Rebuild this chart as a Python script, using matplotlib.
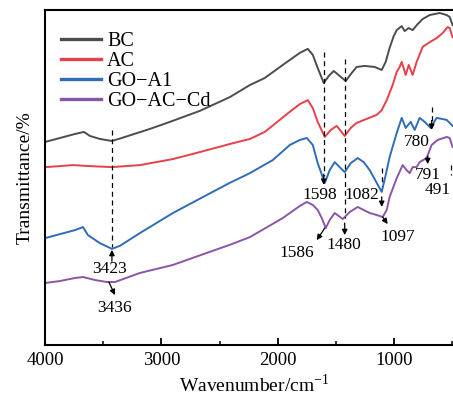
import matplotlib
matplotlib.use('Agg')
import matplotlib.pyplot as plt

plt.rcParams['font.family'] = ['Liberation Serif', 'DejaVu Serif']
plt.rcParams['mathtext.fontset'] = 'custom'
plt.rcParams['mathtext.rm'] = 'Liberation Serif'

# FTIR spectra, values (transmittance in arbitrary %)
bc_wn = [4000, 3871, 3742, 3665, 3614, 3528, 3425, 3313, 3099, 2927, 2669, 2412, 2240, 2112, 1957,
         1811, 1742, 1699, 1657, 1605, 1562, 1519, 1468, 1416, 1365, 1322, 1253, 1167, 1107, 1073,
         1039, 1004, 978, 935, 910, 875, 841, 798, 755, 695, 609, 549, 523, 498]
bc_t = [60.6, 61.8, 63.0, 63.6, 62.4, 61.5, 60.9, 62.1, 64.5, 66.6, 69.9, 74.0, 77.6, 79.7, 83.6,
        87.2, 88.4, 86.6, 82.7, 78.2, 80.3, 81.8, 80.3, 78.8, 81.2, 83.0, 83.3, 83.0, 82.1, 84.5,
        88.7, 92.2, 94.0, 95.2, 93.7, 94.6, 94.0, 95.8, 97.3, 98.5, 99.1, 98.5, 97.9, 95.5]

ac_wn = [4000, 3871, 3760, 3614, 3425, 3185, 2901, 2669, 2412, 2240, 2112, 1983, 1897, 1811, 1742,
         1699, 1657, 1596, 1545, 1494, 1459, 1425, 1373, 1322, 1236, 1150, 1107, 1064, 1013, 978,
         953, 935, 901, 875, 841, 807, 755, 695, 635, 584, 541, 523, 498]
ac_t = [53.1, 53.4, 53.7, 53.4, 53.1, 53.7, 55.5, 57.6, 60.0, 61.5, 63.6, 67.2, 69.6, 71.9, 73.1,
        70.7, 66.6, 62.1, 64.2, 65.4, 63.9, 62.4, 64.8, 66.3, 67.5, 68.7, 70.1, 73.1, 77.6, 81.5,
        83.0, 84.5, 80.6, 83.6, 80.6, 84.5, 89.0, 90.4, 91.6, 93.1, 94.9, 94.6, 91.9]

goa_wn = [4000, 3871, 3742, 3674, 3631, 3528, 3425, 3356, 3185, 2901, 2609, 2412, 2240, 2043, 1897,
          1811, 1751, 1699, 1657, 1596, 1554, 1511, 1468, 1425, 1373, 1313, 1262, 1210, 1150, 1107,
          1073, 1039, 978, 935, 901, 858, 824, 781, 738, 687, 635, 549, 498]
goa_t = [31.9, 33.1, 34.3, 35.2, 32.8, 30.4, 28.7, 29.6, 33.4, 39.4, 44.8, 48.4, 51.3, 55.2, 59.7,
         61.2, 61.8, 59.7, 54.3, 48.4, 52.2, 54.6, 53.1, 51.6, 54.3, 55.8, 54.6, 52.2, 48.4, 45.7,
         50.7, 56.1, 63.3, 67.8, 64.8, 66.6, 64.2, 67.8, 66.6, 64.8, 67.8, 67.2, 65.4]

cd_wn = [4000, 3871, 3742, 3674, 3571, 3468, 3399, 3185, 2901, 2609, 2412, 2240, 1957, 1811, 1751,
         1699, 1657, 1622, 1588, 1554, 1511, 1476, 1442, 1382, 1313, 1262, 1210, 1150, 1099, 1064,
         1039, 978, 927, 893, 867, 841, 807, 781, 721, 678, 627, 549, 523, 498]
cd_t = [18.5, 19.1, 20.0, 20.3, 19.4, 18.8, 18.8, 21.5, 23.9, 27.5, 29.9, 32.2, 37.9, 41.5, 42.7,
        41.8, 40.3, 37.9, 34.9, 37.3, 39.4, 38.5, 37.6, 39.7, 41.2, 40.3, 39.4, 38.8, 38.2, 40.3,
        44.2, 49.8, 53.7, 52.2, 51.3, 53.1, 53.1, 54.6, 55.8, 59.7, 61.2, 62.1, 61.8, 59.1]

labels = ['BC', 'AC', 'GO−A1', 'GO−AC−Cd']
colors = ['#4d4d4d', '#e8404a', '#2f6db5', '#8a56a8']

fig = plt.figure(figsize=(4.53, 4.01), dpi=100)
ax = fig.add_axes([45 / 453, 56 / 401, 419 / 453, 335 / 401])

series = [(bc_wn, bc_t), (ac_wn, ac_t), (goa_wn, goa_t), (cd_wn, cd_t)]
for (wn, t), lab, c in zip(series, labels, colors):
    ax.plot(wn, t, color=c, lw=1.4, label=lab)

ax.set_xlim(4000, 400)
ax.set_ylim(0, 100)
ax.set_xticks([4000, 3000, 2000, 1000])
ax.set_xticks([3500, 2500, 1500, 500], minor=True)
ax.set_yticks([])
ax.tick_params(axis='x', which='major', direction='in', length=5, width=1.3, labelsize=13.5, pad=5)
ax.tick_params(axis='x', which='minor', direction='in', length=3, width=1.1)
for s in ax.spines.values():
    s.set_linewidth(1.5)

ax.set_xlabel('Wavenumber/cm$^{-1}$', fontsize=14, labelpad=3)
ax.set_ylabel('Transmittance/%', fontsize=14, labelpad=8)

leg = ax.legend(loc='upper left', bbox_to_anchor=(-0.01, 0.995), frameon=False, fontsize=14.5,
                handlelength=2.0, handletextpad=0.3, labelspacing=0.05, borderaxespad=0.6)
for h in leg.get_lines():
    h.set_linewidth(2.4)

# annotations: dashed guides and small arrows
dash = dict(color='k', lw=0.9, ls=(0, (4, 3)))
arr = dict(arrowstyle='-|>', color='k', lw=0.9, mutation_scale=8, shrinkA=0, shrinkB=0)
fs = 12.5

ax.plot([3425, 3425], [64.2, 29.3], **dash)
ax.annotate('', xy=(3425, 28.4), xytext=(3425, 25.0), arrowprops=arr)
ax.text(3442, 22.7, '3423', fontsize=fs, ha='center', va='center')

ax.annotate('', xy=(3399, 14.9), xytext=(3451, 18.8), arrowprops=arr)
ax.text(3399, 11.0, '3436', fontsize=fs, ha='center', va='center')

ax.plot([1605, 1605], [87.5, 50.5], **dash)
ax.annotate('', xy=(1605, 47.8), xytext=(1605, 51.0), arrowprops=arr)
ax.text(1639, 44.8, '1598', fontsize=fs, ha='center', va='center')

ax.plot([1420, 1420], [85.4, 37.9], **dash)
ax.annotate('', xy=(1425, 32.8), xytext=(1425, 36.4), arrowprops=arr)
ax.text(1433, 29.9, '1480', fontsize=fs, ha='center', va='center')

ax.annotate('', xy=(1665, 31.3), xytext=(1596, 34.9), arrowprops=arr)
ax.text(1837, 27.5, '1586', fontsize=fs, ha='center', va='center')

ax.plot([1107, 1107], [52.8, 47.5], **dash)
ax.annotate('', xy=(1107, 41.2), xytext=(1107, 44.2), arrowprops=arr)
ax.text(1279, 44.8, '1082', fontsize=fs, ha='center', va='center')

ax.annotate('', xy=(1056, 36.1), xytext=(1099, 38.2), arrowprops=arr)
ax.text(970, 32.2, '1097', fontsize=fs, ha='center', va='center')

ax.plot([678, 678], [71.0, 66.6], **dash)
ax.annotate('', xy=(678, 64.2), xytext=(678, 67.0), arrowprops=arr)
ax.text(807, 60.6, '780', fontsize=fs, ha='center', va='center')

ax.annotate('', xy=(712, 54.0), xytext=(712, 56.4), arrowprops=arr)
ax.text(712, 50.7, '791', fontsize=fs, ha='center', va='center')

ax.plot([512, 512], [53.7, 50.7], **dash)
ax.text(512, 46.3, '491', fontsize=fs, ha='right', va='center')

fig.savefig('out.png', dpi=100)
